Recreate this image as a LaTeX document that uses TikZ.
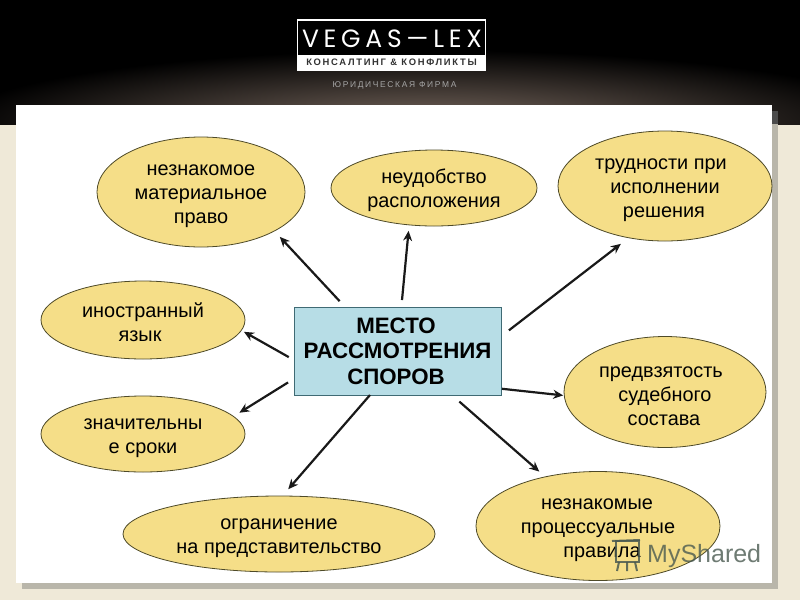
\documentclass[tikz,border=0pt]{standalone}
\usepackage{fontspec}
\setmainfont{Liberation Sans}
\newfontfamily\logofont[LetterSpace=19]{Poppins}
\newfontfamily\stripfont[LetterSpace=18]{Liberation Sans}
\newfontfamily\subfont[LetterSpace=20]{Liberation Sans}
\usetikzlibrary{shapes.geometric,arrows.meta}
\definecolor{pagebg}{HTML}{EFE9D8}
\definecolor{panelshadow}{HTML}{B9B6AA}
\definecolor{oval}{HTML}{F5DE88}
\definecolor{ovalline}{HTML}{4E4A28}
\definecolor{boxfill}{HTML}{B7DDE6}
\definecolor{boxline}{HTML}{3F6A74}
\definecolor{glow}{HTML}{7A6A60}
\definecolor{wm}{HTML}{4A5A50}
\newcommand\dropfirst{\rule{0pt}{20pt}}
\newcommand\toleft[1]{\hspace*{#1pt}}
\tikzset{
  oval/.style={ellipse,draw=ovalline,fill=oval,line width=0.8pt,inner sep=0pt,outer sep=0pt,align=center,font=\fontsize{19.9}{24}\selectfont,text=black},
  centerbox/.style={rectangle,draw=boxline,fill=boxfill,line width=1pt,minimum width=207pt,minimum height=88pt,inner sep=0pt,outer sep=0pt,align=center,font=\fontsize{22.3}{25.5}\selectfont\bfseries},
  arr/.style={-{Stealth[length=10pt,width=9pt]},line width=2.2pt,black!90}
}
\begin{document}
\begin{tikzpicture}[x=1pt,y=-1pt]
\useasboundingbox (0,0) rectangle (800,600);
% page and header
\fill[pagebg] (0,0) rectangle (800,600);
\fill[black] (0,0) rectangle (800,124);
\begin{scope}
\clip (0,0) rectangle (800,124);
\shade[inner color=glow,outer color=black] (430,125) ellipse [x radius=480pt,y radius=75pt];
\end{scope}
% panel
\fill[panelshadow] (22,124) rectangle (778,589);
\fill[black!70] (772,111) rectangle (778,124);
\fill[white] (16,105) rectangle (772,583);
% logo
\node[draw=white,line width=1.6pt,fill=black,minimum width=188pt,minimum height=50pt,inner sep=0pt] (logobox) at (391.5,45) {};
\fill[white] (297,55) rectangle (486,70);
\node[inner sep=0pt,text=white,font=\logofont\fontsize{25}{25}\selectfont] (logotext) at (392,38.5) {VEGAS—LEX};
\node[inner sep=0pt,text=black!80,font=\stripfont\fontsize{9.4}{9.4}\selectfont\bfseries] (striptext) at (391.5,62.5) {КОНСАЛТИНГ \& КОНФЛИКТЫ};
\node[inner sep=0pt,text=black!35!white,font=\subfont\fontsize{8.4}{8.4}\selectfont] (subtext) at (394.5,85.5) {ЮРИДИЧЕСКАЯ ФИРМА};
% nodes
\node[centerbox] (c) at (397.5,351) {МЕСТО\toleft{3}\\РАССМОТРЕНИЯ\toleft{3}\\СПОРОВ\toleft{3}};
\node[oval,minimum width=208pt,minimum height=110pt] (e1) at (201,192) {\dropfirst незнакомое\\материальное\\право};
\node[oval,minimum width=206pt,minimum height=76pt] (e2) at (434,188) {\dropfirst неудобство\\расположения};
\node[oval,minimum width=214pt,minimum height=110pt] (e3) at (665,186) {\dropfirst трудности при\toleft{8}\\исполнении\toleft{2}\\решения\toleft{2}};
\node[oval,minimum width=202pt,minimum height=111pt] (e4) at (665,392) {\dropfirst предвзятость\toleft{8}\\судебного\toleft{8}\\состава\toleft{2}};
\node[oval,minimum width=244pt,minimum height=109pt] (e5) at (598,526) {\dropfirst незнакомые\toleft{2}\\процессуальные\toleft{6}\\\toleft{8}правила};
\node[oval,minimum width=312pt,minimum height=76pt] (e6) at (279,534) {\dropfirst ограничение\\на представительство};
\node[oval,minimum width=204pt,minimum height=76pt] (e7) at (143,434) {\dropfirst значительны\\е сроки};
\node[oval,minimum width=204pt,minimum height=78pt] (e8) at (143,320) {\dropfirst иностранный\\язык\toleft{6}};
% connectors
\draw[arr,shorten <=8pt,shorten >=8pt] (c.140) -- (e1.-28);
\draw[arr,shorten <=7pt,shorten >=6pt] (c.85) -- (e2.-124);
\draw[arr,shorten <=10pt,shorten >=10pt] (c.8) -- (e3.-125);
\draw[arr,shorten <=1pt,shorten >=1pt] (c.-20) -- (e4.-178);
\draw[arr,shorten <=10pt,shorten >=8pt] (c.-39) -- (e5.137);
\draw[arr,shorten >=9pt] (c.-122) -- (e6.85);
\draw[arr,shorten <=7pt,shorten >=7pt] (c.-165) -- (e7.11);
\draw[arr,shorten <=6pt,shorten >=3pt] (c.-175) -- (e8.-6);
% watermark
\node[inner sep=0pt,text=wm,opacity=0.8,font=\fontsize{25}{25}\selectfont,anchor=west] (wmtext) at (647,556) {MyShared};
\begin{scope}[draw=wm,opacity=0.85,line width=2pt]
\draw (616,541) rectangle (639,562);
\draw (612,541) -- (640,540);
\draw (619,562) -- (617,571) (627,562) -- (627,571) (635,562) -- (637,571);
\end{scope}
\end{tikzpicture}
\end{document}
